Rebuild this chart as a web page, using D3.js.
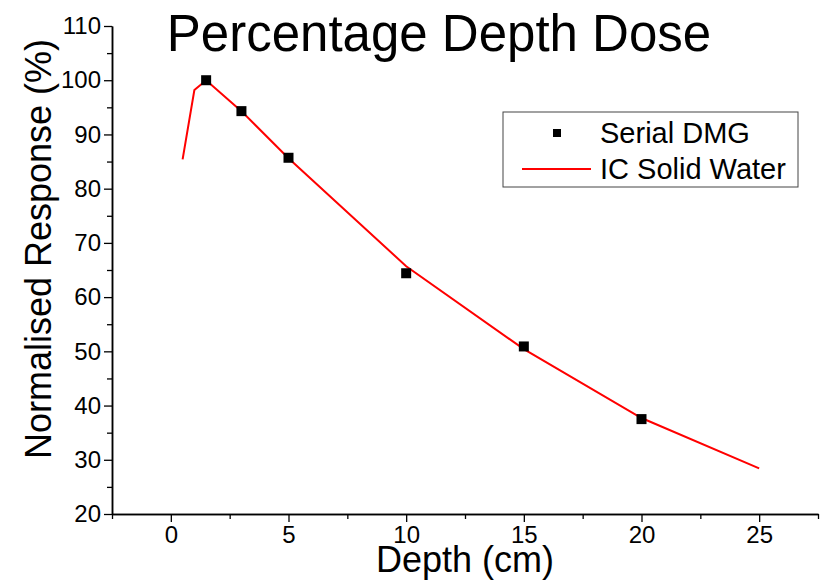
<!DOCTYPE html>
<html>
<head>
<meta charset="utf-8">
<script src="https://cdn.jsdelivr.net/npm/d3@7"></script>
<style>
  body { margin: 0; background: #fff; }
  svg { font-family: "Liberation Sans", Arial, sans-serif; }
</style>
</head>
<body>
<svg id="chart"></svg>
<script>
// Serial DMG measurements
const dmgDepth = [1.5, 3, 5, 10, 15, 20];
const dmgValue = [100, 94.3, 85.7, 64.4, 50.9, 37.5];

// IC Solid Water curve
const icDepth = [0.5, 1, 1.5, 3, 5, 10, 15, 20, 25];
const icValue = [85.4, 98.2, 100, 94.3, 85.6, 65.7, 50.4, 37.7, 28.4];

const xMajor = [0, 5, 10, 15, 20, 25];
const yMajor = [20, 30, 40, 50, 60, 70, 80, 90, 100, 110];

const width = 823, height = 581;
const margin = {top: 26, right: 5, bottom: 67, left: 112};
const w = width - margin.left - margin.right;
const h = height - margin.top - margin.bottom;

const svg = d3.select('#chart')
    .attr('width', width)
    .attr('height', height);

const chart = svg.append('g')
    .attr('transform', `translate(${margin.left},${margin.top})`);

const xScale = d3.scaleLinear().domain([-2.5, 27.5]).range([0, w]);
const yScale = d3.scaleLinear().domain([20, 110]).range([h, 0]);

// minor ticks first, then major on top
const xMinor = d3.range(-2.5, 27.6, 2.5).filter(v => !xMajor.includes(v));
const yMinor = d3.range(25, 110, 10);

const xAxisG = chart.append('g')
    .attr('transform', `translate(0,${h})`);
xAxisG.append('g')
    .call(d3.axisBottom(xScale).tickValues(xMinor).tickSize(5).tickFormat('').tickSizeOuter(0));
xAxisG.append('g')
    .call(d3.axisBottom(xScale).tickValues(xMajor).tickSize(8).tickPadding(4).tickSizeOuter(0));

const yAxisG = chart.append('g');
yAxisG.append('g')
    .call(d3.axisLeft(yScale).tickValues(yMinor).tickSize(5).tickFormat('').tickSizeOuter(0));
yAxisG.append('g')
    .call(d3.axisLeft(yScale).tickValues(yMajor).tickSize(8).tickPadding(3).tickSizeOuter(0));

chart.selectAll('.domain').attr('stroke', '#000').attr('stroke-width', 1.5);
chart.selectAll('.tick line').attr('stroke', '#000').attr('stroke-width', 1.3);
chart.selectAll('.tick text')
    .attr('fill', '#000')
    .style('font-size', '24px');

// curve
const icData = icDepth.map((d, i) => ({x: d, y: icValue[i]}));
chart.append('path')
    .datum(icData)
    .attr('fill', 'none')
    .attr('stroke', '#ff0000')
    .attr('stroke-width', 2)
    .attr('d', d3.line().x(d => xScale(d.x)).y(d => yScale(d.y)));

// points
const dmgData = dmgDepth.map((d, i) => ({x: d, y: dmgValue[i]}));
const sq = 10;
chart.selectAll('.pt')
    .data(dmgData)
    .enter()
    .append('rect')
    .attr('class', 'pt')
    .attr('x', d => xScale(d.x) - sq / 2)
    .attr('y', d => yScale(d.y) - sq / 2)
    .attr('width', sq)
    .attr('height', sq)
    .attr('fill', '#000');

// titles
svg.append('text')
    .attr('x', 439)
    .attr('y', 51)
    .attr('text-anchor', 'middle')
    .style('font-size', '51px')
    .text('Percentage Depth Dose');

svg.append('text')
    .attr('x', 465)
    .attr('y', 572)
    .attr('text-anchor', 'middle')
    .style('font-size', '36px')
    .text('Depth (cm)');

svg.append('text')
    .attr('transform', `translate(51,249) rotate(-90)`)
    .attr('text-anchor', 'middle')
    .style('font-size', '36px')
    .text('Normalised Response (%)');

// legend
const legend = svg.append('g').attr('transform', 'translate(503,112)');
legend.append('rect')
    .attr('width', 295)
    .attr('height', 75)
    .attr('fill', '#fff')
    .attr('stroke', '#444')
    .attr('stroke-width', 1);
legend.append('rect')
    .attr('x', 50).attr('y', 17)
    .attr('width', 8).attr('height', 8)
    .attr('fill', '#000');
legend.append('line')
    .attr('x1', 19).attr('x2', 88)
    .attr('y1', 57).attr('y2', 57)
    .attr('stroke', '#ff0000')
    .attr('stroke-width', 2);
legend.append('text')
    .attr('x', 97).attr('y', 31)
    .style('font-size', '29px')
    .text('Serial DMG');
legend.append('text')
    .attr('x', 97).attr('y', 67)
    .style('font-size', '29px')
    .text('IC Solid Water');
</script>
</body>
</html>
